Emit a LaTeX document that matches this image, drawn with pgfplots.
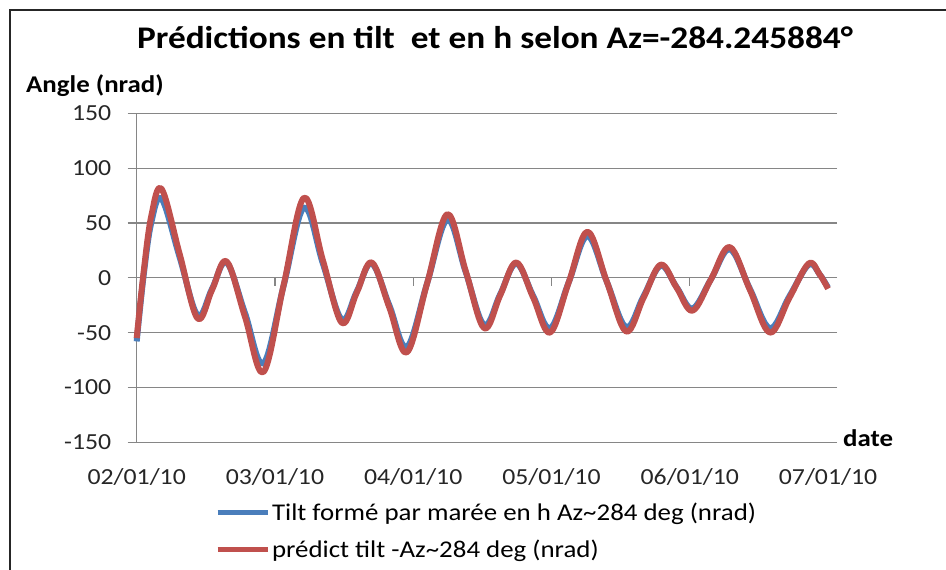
\documentclass[border=0pt]{standalone}
\usepackage{fontspec}
\setmainfont{Carlito}[FakeStretch=1.12]
\usepackage{pgfplots}
\pgfplotsset{compat=1.18}
\definecolor{xlblue}{RGB}{74,126,187}
\definecolor{xlred}{RGB}{192,80,77}
\definecolor{xlgrid}{RGB}{134,134,134}
\begin{document}
\begin{tikzpicture}[x=1bp,y=1bp]
\useasboundingbox (0,0) rectangle (946,570);
\draw[line width=2bp,black!85] (10,0) -- (10,560) -- (946,560);
\node[font=\fontsize{31.5bp}{36bp}\selectfont\bfseries] at (495,532) {Prédictions en tilt~ et en h selon Az=-284.245884°};
\node[anchor=west,font=\fontsize{24bp}{28bp}\selectfont\bfseries,inner sep=0] at (26,484) {Angle (nrad)};
\node[anchor=west,font=\fontsize{24bp}{28bp}\selectfont\bfseries,inner sep=0] at (843,132) {date};
\begin{axis}[
  at={(136.7bp,127.7bp)}, anchor=south west,
  scale only axis, width=691.3bp, height=329bp,
  xmin=0, xmax=5, ymin=-150, ymax=150,
  axis line style={draw=none},
  xtick={0,1,2,3,4,5},
  xticklabels={02/01/10,03/01/10,04/01/10,05/01/10,06/01/10,07/01/10},
  x tick style={draw=none},
  ytick={-150,-100,-50,0,50,100,150},
  yticklabels={-150,-100,-50,0,50,100,150},
  y tick style={xlgrid, line width=1.2bp},
  tick align=outside, major tick length=9bp,
  ymajorgrids, grid style={xlgrid, line width=1.2bp},
  tick label style={font=\fontsize{23bp}{26bp}\selectfont, text=black!85},
  xticklabel style={yshift=-14bp},
  yticklabel style={xshift=-13bp},
  legend style={at={(0.113,-0.178)}, anchor=north west, draw=none, fill=none,
    font=\fontsize{24bp}{28bp}\selectfont, row sep=14bp, inner sep=0pt,
    /tikz/every even column/.append style={column sep=0bp}},
  legend cell align=left,
  legend image code/.code={\draw[#1, line width=5bp] (0bp,0bp) -- (50bp,0bp);},
  clip=false,
]
\draw[xlgrid, line width=1.2bp] (axis cs:0,-150) -- (axis cs:0,150);
\draw[xlgrid, line width=1.2bp] (axis cs:0,0) -- (axis cs:5,0);
\pgfplotsinvokeforeach{1,2,3,4}{\draw[xlgrid, line width=1.2bp] (axis cs:#1,0) -- ([yshift=-8bp]axis cs:#1,0);}
\addplot[xlblue, line width=6bp, smooth, tension=0.6, line join=round] coordinates {
(0,-58) (0.05,2) (0.105,50) (0.18,72) (0.31,19) (0.44,-34) (0.545,-10) (0.65,14)
(0.783,-32) (0.916,-78) (1.063,-7) (1.21,64) (1.3465,13) (1.483,-38) (1.5915,-12.5)
(1.70,13) (1.827,-25) (1.954,-63) (2.1005,-5) (2.247,53) (2.38,5) (2.513,-43)
(2.629,-15) (2.745,13) (2.8675,-16.5) (2.99,-46) (3.125,-4) (3.26,38) (3.40,-3.5)
(3.54,-45) (3.665,-17) (3.79,11) (3.905,-8.5) (4.02,-28) (4.155,-1) (4.29,26)
(4.435,-10) (4.58,-46) (4.72,-17) (4.86,12) (4.94,3) (5.0,-9)
};
\addlegendentry{Tilt formé par marée en h Az\textasciitilde 284 deg (nrad)}
\addplot[xlred, line width=6bp, smooth, tension=0.6, line join=round] coordinates {
(0,-55) (0.05,5) (0.105,56) (0.18,81) (0.31,22) (0.44,-37) (0.545,-11) (0.65,15)
(0.783,-35.5) (0.916,-86) (1.063,-6.5) (1.21,73) (1.3465,16) (1.483,-41) (1.5915,-13.5)
(1.70,14) (1.827,-27) (1.954,-68) (2.1005,-5) (2.247,58) (2.38,6) (2.513,-46)
(2.629,-16) (2.745,14) (2.8675,-18) (2.99,-50) (3.125,-4) (3.26,42) (3.40,-3.5)
(3.54,-49) (3.665,-18.5) (3.79,12) (3.905,-9) (4.02,-30) (4.155,-1) (4.29,28)
(4.435,-11) (4.58,-50) (4.72,-18.5) (4.86,13) (4.94,3) (5.0,-10)
};
\addlegendentry{prédict tilt -Az\textasciitilde 284 deg (nrad)}
\end{axis}
\end{tikzpicture}
\end{document}
